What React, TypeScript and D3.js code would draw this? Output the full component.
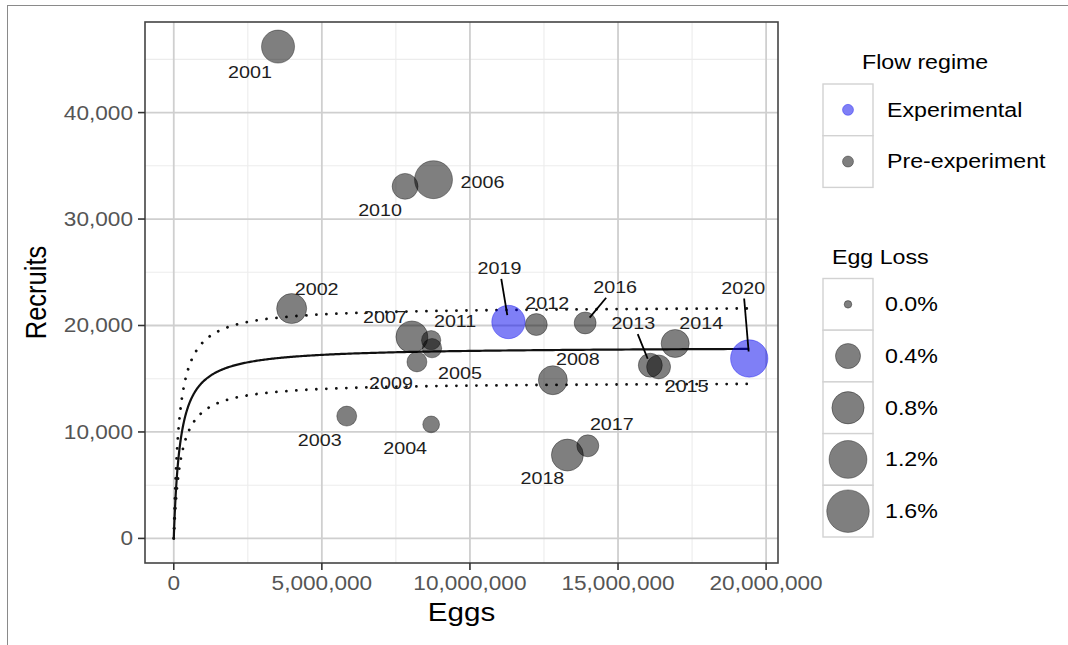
import React from "react";
import * as d3 from "d3";

// ---- data -------------------------------------------------------------
const years = [
  2001, 2002, 2003, 2004, 2005, 2006, 2007, 2008, 2009, 2010,
  2011, 2012, 2013, 2014, 2015, 2016, 2017, 2018, 2019, 2020,
];
const eggs = [
  3.52e6, 3.98e6, 5.84e6, 8.69e6, 8.72e6, 8.77e6, 8.04e6, 12.8e6, 8.21e6, 7.81e6,
  8.69e6, 12.24e6, 16.09e6, 16.93e6, 16.37e6, 13.89e6, 13.98e6, 13.29e6, 11.3e6, 19.43e6,
];
const recruits = [
  46200, 21590, 11490, 10710, 17870, 33700, 18930, 14860, 16580, 33070,
  18620, 20090, 16270, 18310, 16110, 20240, 8700, 7830, 20330, 16900,
];
const eggLossPct = [
  0.85, 0.66, 0.2, 0.11, 0.18, 1.21, 0.78, 0.6, 0.2, 0.44,
  0.18, 0.27, 0.35, 0.55, 0.35, 0.27, 0.27, 0.78, 0.87, 1.16,
];
const flowRegime = [
  "Pre-experiment", "Pre-experiment", "Pre-experiment", "Pre-experiment", "Pre-experiment",
  "Pre-experiment", "Pre-experiment", "Pre-experiment", "Pre-experiment", "Pre-experiment",
  "Pre-experiment", "Pre-experiment", "Pre-experiment", "Pre-experiment", "Pre-experiment",
  "Pre-experiment", "Pre-experiment", "Pre-experiment", "Experimental", "Experimental",
];

const regimeLevels = ["Experimental", "Pre-experiment"];
const xTicks = [0, 5e6, 10e6, 15e6, 20e6];
const yTicks = [0, 10000, 20000, 30000, 40000];
const sizeBreaks = [0, 0.4, 0.8, 1.2, 1.6];
const sizeLimit = 1.7;

// Beverton–Holt stock–recruit fit (R = rmax * E / (k + E)) and its bounds
const fitMid = { rmax: 18000, k: 0.22e6 };
const fitUpper = { rmax: 21800, k: 0.18e6 };
const fitLower = { rmax: 14680, k: 0.23e6 };

// repelled label placement (pixel nudges from each point)
const labelNudge: Record<number, [number, number]> = {
  2001: [-28, 25], 2002: [25, -20], 2003: [-27, 24], 2004: [-26, 24],
  2005: [28, 25], 2006: [49, 2], 2007: [-27, -20], 2008: [25, -21],
  2009: [-26, 21], 2010: [-25, 24], 2011: [24, -19], 2012: [11, -22],
  2013: [-17, -42], 2014: [26, -20], 2015: [28, 19], 2016: [30, -36],
  2017: [24, -22], 2018: [-25, 23], 2019: [-9, -54], 2020: [-6, -71],
};
const labelsWithSegment = [2013, 2016, 2019, 2020];

// ---- layout -----------------------------------------------------------
const W = 1068;
const H = 645;
const panel = { left: 145, right: 778, top: 22, bottom: 563 };
const SX = 1.16; // horizontal text stretch of the rendering
const FONT = "'Liberation Sans', Arial, Helvetica, sans-serif";

const regimeColor: Record<string, string> = {
  Experimental: "#0000ee",
  "Pre-experiment": "#000000",
};
const POINT_ALPHA = 0.5;

function T(props: {
  x: number;
  y: number;
  size: number;
  anchor?: "start" | "middle" | "end";
  fill?: string;
  rotate?: boolean;
  children: React.ReactNode;
}) {
  const { x, y, size, anchor = "start", fill = "#000", rotate = false } = props;
  return (
    <text
      transform={`translate(${x},${y}) scale(${SX},1)${rotate ? " rotate(-90)" : ""}`}
      fontSize={size}
      fontFamily={FONT}
      textAnchor={anchor}
      dominantBaseline="central"
      fill={fill}
    >
      {props.children}
    </text>
  );
}

export default function App() {
  const maxEggs = d3.max(eggs) as number;
  const maxRec = d3.max(recruits) as number;
  const xPad = maxEggs * 0.05;
  const yPad = maxRec * 0.05;

  const x = d3.scaleLinear().domain([-xPad, maxEggs + xPad]).range([panel.left, panel.right]);
  const y = d3.scaleLinear().domain([-yPad, maxRec + yPad]).range([panel.bottom, panel.top]);
  const r = d3.scalePow().exponent(0.5).domain([0, sizeLimit]).range([3.8, 21.8]);

  const xMinor = xTicks.slice(0, -1).map((v, i) => (v + xTicks[i + 1]) / 2)
    .concat([xTicks[xTicks.length - 1] + 2.5e6])
    .filter((v) => v > x.domain()[0] && v < x.domain()[1]);
  const yMinor = yTicks.map((v) => v + 5000).filter((v) => v > y.domain()[0] && v < y.domain()[1]);

  const sampleE = d3.range(0, 401).map((i) => maxEggs * Math.pow(i / 400, 3));
  const line = d3
    .line<number>()
    .x((e) => x(e))
    .y(() => y(0))
    .curve(d3.curveLinear);
  const curve = (fit: { rmax: number; k: number }) =>
    line.y((e) => y((fit.rmax * e) / (fit.k + e)))(sampleE) as string;

  const points = years.map((yr, i) => ({
    year: yr,
    px: x(eggs[i]),
    py: y(recruits[i]),
    rad: r(eggLossPct[i]),
    color: regimeColor[flowRegime[i]],
  }));

  const fmt = d3.format(",");

  // legend geometry
  const legX = 823;
  const keyW = 50;
  const keyH = 51.7;
  const flowTop = 84;
  const sizeTop = 278.5;

  return (
    <svg
      width={W}
      height={H}
      style={{ position: "absolute", left: 0, top: 0, background: "#fff" }}
    >
      <rect x={0} y={0} width={W} height={H} fill="#fff" />
      <rect x={7.5} y={5.5} width={W + 20} height={H + 20} fill="none" stroke="#8a8a8a" strokeWidth={1} />

      {/* panel grid */}
      <g>
        {xMinor.map((v) => (
          <line key={"xm" + v} x1={x(v)} x2={x(v)} y1={panel.top} y2={panel.bottom} stroke="#ececec" strokeWidth={1.1} />
        ))}
        {yMinor.map((v) => (
          <line key={"ym" + v} x1={panel.left} x2={panel.right} y1={y(v)} y2={y(v)} stroke="#ececec" strokeWidth={1.1} />
        ))}
        {xTicks.map((v) => (
          <line key={"xM" + v} x1={x(v)} x2={x(v)} y1={panel.top} y2={panel.bottom} stroke="#cfcfcf" strokeWidth={1.8} />
        ))}
        {yTicks.map((v) => (
          <line key={"yM" + v} x1={panel.left} x2={panel.right} y1={y(v)} y2={y(v)} stroke="#cfcfcf" strokeWidth={1.8} />
        ))}
      </g>

      {/* fitted curves */}
      <path d={curve(fitUpper)} fill="none" stroke="#111" strokeWidth={2.8} strokeLinecap="round" strokeDasharray="0.01 10" />
      <path d={curve(fitLower)} fill="none" stroke="#111" strokeWidth={2.8} strokeLinecap="round" strokeDasharray="0.01 10" />
      <path d={curve(fitMid)} fill="none" stroke="#111" strokeWidth={2.2} />

      {/* bubbles */}
      <g>
        {points.map((p) => (
          <circle
            key={p.year}
            cx={p.px}
            cy={p.py}
            r={p.rad}
            fill={p.color}
            fillOpacity={POINT_ALPHA}
            stroke={p.color}
            strokeOpacity={0.35}
            strokeWidth={1}
          />
        ))}
      </g>

      {/* year labels */}
      <g>
        {points.map((p) => {
          const [dx, dy] = labelNudge[p.year];
          const lx = p.px + dx;
          const ly = p.py + dy;
          let seg = null;
          if (labelsWithSegment.includes(p.year)) {
            const vx = p.px - lx;
            const vy = p.py - ly;
            const len = Math.hypot(vx, vy);
            const ux = vx / len;
            const uy = vy / len;
            const tBox = Math.min(Math.abs(24 / (ux || 1e-9)), Math.abs(10 / (uy || 1e-9)));
            const sx0 = lx + ux * (tBox + 1);
            const sy0 = ly + uy * (tBox + 1);
            const ex = p.px - ux * 7;
            const ey = p.py - uy * 7;
            seg = <line x1={sx0} y1={sy0} x2={ex} y2={ey} stroke="#000" strokeWidth={1.8} />;
          }
          return (
            <g key={"l" + p.year}>
              {seg}
              <T x={lx} y={ly} size={17} anchor="middle" fill="#1e1e1e">
                {p.year}
              </T>
            </g>
          );
        })}
      </g>

      {/* panel border */}
      <rect
        x={panel.left}
        y={panel.top}
        width={panel.right - panel.left}
        height={panel.bottom - panel.top}
        fill="none"
        stroke="#444"
        strokeWidth={1.6}
      />

      {/* axes */}
      <g>
        {yTicks.map((v) => (
          <g key={"yt" + v}>
            <line x1={panel.left - 7} x2={panel.left} y1={y(v)} y2={y(v)} stroke="#333" strokeWidth={1.6} />
            <T x={panel.left - 12} y={y(v)} size={19.5} anchor="end" fill="#555">
              {fmt(v)}
            </T>
          </g>
        ))}
        {xTicks.map((v) => (
          <g key={"xt" + v}>
            <line x1={x(v)} x2={x(v)} y1={panel.bottom} y2={panel.bottom + 7} stroke="#333" strokeWidth={1.6} />
            <T x={x(v)} y={panel.bottom + 20} size={19.5} anchor="middle" fill="#555">
              {fmt(v)}
            </T>
          </g>
        ))}
        <T x={(panel.left + panel.right) / 2} y={612} size={25.5} anchor="middle">
          Eggs
        </T>
        <T x={36} y={(panel.top + panel.bottom) / 2} size={25.5} anchor="middle" rotate>
          Recruits
        </T>
      </g>

      {/* legend: flow regime */}
      <g>
        <T x={862} y={62} size={20}>
          Flow regime
        </T>
        {regimeLevels.map((lv, i) => (
          <g key={lv}>
            <rect
              x={legX}
              y={flowTop + i * keyH}
              width={keyW}
              height={keyH}
              fill="#fff"
              stroke="#d2d2d2"
              strokeWidth={1.4}
            />
            <circle
              cx={legX + keyW / 2}
              cy={flowTop + i * keyH + keyH / 2}
              r={5.5}
              fill={regimeColor[lv]}
              fillOpacity={POINT_ALPHA}
              stroke={regimeColor[lv]}
              strokeOpacity={0.35}
            />
            <T x={887} y={flowTop + i * keyH + keyH / 2} size={20}>
              {lv}
            </T>
          </g>
        ))}
      </g>

      {/* legend: egg loss */}
      <g>
        <T x={832} y={257} size={20}>
          Egg Loss
        </T>
        {sizeBreaks.map((b, i) => (
          <g key={"s" + b}>
            <rect
              x={legX}
              y={sizeTop + i * keyH}
              width={keyW}
              height={keyH}
              fill="#fff"
              stroke="#d2d2d2"
              strokeWidth={1.4}
            />
            <circle
              cx={legX + keyW / 2}
              cy={sizeTop + i * keyH + keyH / 2}
              r={r(b)}
              fill="#000"
              fillOpacity={POINT_ALPHA}
              stroke="#000"
              strokeOpacity={0.35}
            />
            <T x={885} y={sizeTop + i * keyH + keyH / 2} size={20}>
              {d3.format(".1f")(b) + "%"}
            </T>
          </g>
        ))}
      </g>
    </svg>
  );
}
